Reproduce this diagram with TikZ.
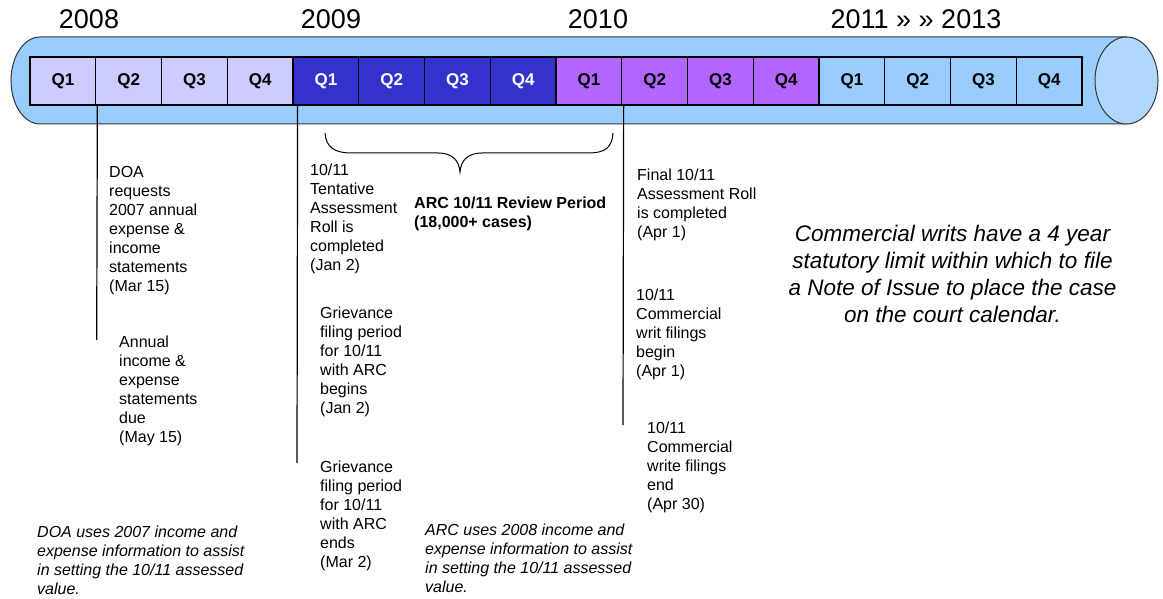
\documentclass[tikz,border=0pt]{standalone}
\usepackage{fontspec}
\setmainfont{Liberation Sans}
\definecolor{cylblue}{HTML}{99CCFF}
\definecolor{capblue}{HTML}{B0D8FF}
\definecolor{qa}{HTML}{CCCCFF}
\definecolor{qb}{HTML}{3333CC}
\definecolor{qc}{HTML}{B266FF}
\definecolor{qd}{HTML}{99CCFF}
\definecolor{cylline}{HTML}{333333}
\begin{document}
\begin{tikzpicture}[x=1pt,y=-1pt,
  qbox/.style={draw=black, line width=1.2pt, minimum width=65.75pt, minimum height=48pt, inner sep=0pt, font=\fontsize{17}{20}\selectfont\bfseries},
  year/.style={font=\fontsize{27}{32}\selectfont, anchor=base, inner sep=0pt},
  note/.style={font=\fontsize{16}{19}\selectfont, anchor=north west, align=left, inner sep=0pt},
  inote/.style={note, font=\fontsize{16}{19}\selectfont\itshape},
  bnote/.style={note, font=\fontsize{16}{19}\selectfont\bfseries},
  bignote/.style={font=\fontsize{22.5}{27}\selectfont\itshape, anchor=north, align=center, inner sep=0pt},
  vline/.style={draw=black, line width=1.2pt},
  cylshape/.style={fill=cylblue, draw=cylline, line width=1pt}]
\useasboundingbox (0,0) rectangle (1163,599);
% cylinder
\path[cylshape] (40,37) -- (1126.5,37) -- (1126.5,124) -- (40,124)
  .. controls (24,124) and (11,104.5) .. (11,80.5)
  .. controls (11,56.5) and (24,37) .. (40,37) -- cycle;
\path[cylshape, fill=capblue] (1126.5,80.5) ellipse [x radius=31.5, y radius=43.5];
% years
\node[year] (y08) at (89,28.3) {2008};
\node[year] (y09) at (331,28.3) {2009};
\node[year] (y10) at (598,28.3) {2010};
\node[year] (y11) at (916,28.3) {2011 » » 2013};
% quarters
\foreach \i/\c/\t/\lab in {1/qa/black/Q1,2/qa/black/Q2,3/qa/black/Q3,4/qa/black/Q4,
  5/qb/white/Q1,6/qb/white/Q2,7/qb/white/Q3,8/qb/white/Q4,
  9/qc/black/Q1,10/qc/black/Q2,11/qc/black/Q3,12/qc/black/Q4,
  13/qd/black/Q1,14/qd/black/Q2,15/qd/black/Q3,16/qd/black/Q4}
  \node[qbox, fill=\c, text=\t] (q\i) at ({30+(\i-0.5)*65.75},81) {\lab};
% vertical markers
\coordinate (e1) at (96.7,340);
\coordinate (e2) at (297,463);
\coordinate (e3) at (623,425);
\draw[vline] ([xshift=1pt]q1.south east) -- (e1);
\draw[vline] ([xshift=4pt]q4.south east) -- (e2);
\draw[vline] ([xshift=1.3pt]q9.south east) -- (e3);
% brace
\draw[line width=1pt] (325,133) .. controls (326,147) and (334,153) .. (352,153) -- (438,153)
  .. controls (452,153) and (459,160) .. (460,172)
  .. controls (461,160) and (468,153) .. (482,153) -- (588,153)
  .. controls (606,153) and (612,147) .. (613,133);
% notes
\node[note] (doa) at (109,164.4) {\strut DOA\\requests\\2007 annual\\expense \&\\income\\statements\\(Mar 15)};
\node[note] (annual) at (119,334.4) {\strut Annual\\income \&\\expense\\statements\\due\\(May 15)};
\node[note] (tent) at (310,162.4) {\strut 10/11\\Tentative\\Assessment\\Roll is\\completed\\(Jan 2)};
\node[note] (griev1) at (320,305.4) {\strut Grievance\\filing period\\for 10/11\\with ARC\\begins\\(Jan 2)};
\node[note] (griev2) at (320,459.4) {\strut Grievance\\filing period\\for 10/11\\with ARC\\ends\\(Mar 2)};
\node[bnote] (arc) at (414,195.4) {\strut ARC 10/11 Review Period\\(18,000+ cases)};
\node[inote] (arcuse) at (425,522.4) {\strut ARC uses 2008 income and\\expense information to assist\\in setting the 10/11 assessed\\value.};
\node[inote] (doause) at (37,524.4) {\strut DOA uses 2007 income and\\expense information to assist\\in setting the 10/11 assessed\\value.};
\node[note] (final) at (637,167.4) {\strut Final 10/11\\Assessment Roll\\is completed\\(Apr 1)};
\node[note] (writb) at (636,287.4) {\strut 10/11\\Commercial\\writ filings\\begin\\(Apr 1)};
\node[note] (write) at (647,420.4) {\strut 10/11\\Commercial\\write filings\\end\\(Apr 30)};
\node[bignote] (cw) at (952.5,222) {\strut Commercial writs have a 4 year\\statutory limit within which to file\\a Note of Issue to place the case\\on the court calendar.};
\end{tikzpicture}
\end{document}
